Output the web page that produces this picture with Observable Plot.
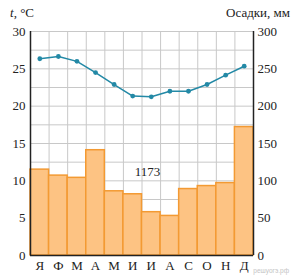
<!DOCTYPE html>
<html><head><meta charset="utf-8">
<script src="https://cdn.jsdelivr.net/npm/d3@7"></script>
<script src="https://cdn.jsdelivr.net/npm/@observablehq/plot@0.6"></script>
<style>body{margin:0;background:#fff} svg{display:block} svg, svg text{font-family:"Liberation Serif","DejaVu Serif",serif !important;}
svg text.wm{font-family:"Liberation Sans",sans-serif !important;}</style>
</head><body><div id="chart"></div>
<script>
const months = ["Я","Ф","М","А","М","И","И","А","С","О","Н","Д"];
const temperature = [26.35, 26.65, 26.0, 24.5, 22.9, 21.35, 21.25, 22.0, 22.0, 22.9, 24.15, 25.35];
const precipitation = [115, 107, 104, 141, 86, 82, 58, 53, 89, 93, 97, 172];
const totalPrecipitation = 1173;
const tempTicks = [0, 5, 10, 15, 20, 25, 30];
const precipTicks = [0, 50, 100, 150, 200, 250, 300];

const data = months.map((m, i) => ({i, m, t: temperature[i], p: precipitation[i]}));
const teal = "#2389a6";

const plot = Plot.plot({
  width: 291, height: 277,
  marginLeft: 30, marginRight: 38, marginTop: 31, marginBottom: 22,
  style: {fontSize: "13px", color: "#222", background: "#fff"},
  x: {domain: [0, 12]},
  y: {domain: [0, 30]},
  marks: [
    Plot.gridX(d3.range(13), {stroke: "#c8c8c8", strokeOpacity: 1}),
    Plot.gridY(d3.range(0, 30.1, 2.5), {stroke: "#c8c8c8", strokeOpacity: 1}),
    Plot.rectY(data, {x1: "i", x2: d => d.i + 1, y: d => d.p / 10, fill: "#fdc383", stroke: "#f39a33", strokeWidth: 1.5}),
    Plot.lineY(data, {x: d => d.i + 0.5, y: "t", stroke: teal, strokeWidth: 1.5}),
    Plot.dot(data, {x: d => d.i + 0.5, y: "t", fill: teal, r: 2.4}),
    Plot.axisY(tempTicks, {anchor: "left", tickSize: 0, tickPadding: 5, label: null}),
    Plot.axisY(tempTicks, {anchor: "right", tickSize: 0, tickPadding: 4, label: null,
      tickFormat: d => precipTicks[tempTicks.indexOf(d)]}),
    Plot.axisX(d3.range(12).map(i => i + 0.5), {tickSize: 0, tickPadding: 5, label: null,
      tickFormat: d => months[Math.floor(d)]}),
    Plot.ruleX([0, 12], {stroke: "#222", strokeWidth: 1.5}),
    Plot.ruleY([0], {stroke: "#222", strokeWidth: 1.5}),
    Plot.text([totalPrecipitation], {x: 6.3, y: 11.2, text: d => String(d), fontSize: 13})
  ]
});
document.getElementById("chart").appendChild(plot);

const svg = d3.select(plot);
const lt = svg.append("text").attr("x", 10).attr("y", 17).attr("text-anchor", "start")
  .attr("font-size", 13).attr("fill", "#222");
lt.append("tspan").attr("font-style", "italic").text("t");
lt.append("tspan").text(", °C");
svg.append("text").attr("x", 290).attr("y", 17).attr("text-anchor", "end")
  .attr("font-size", 13).attr("fill", "#222")
  .text("Осадки, мм");
svg.append("text").attr("class", "wm").attr("x", 289).attr("y", 273).attr("text-anchor", "end")
  .attr("font-size", 6.5).attr("fill", "#c4c4c4")
  .text("решуогэ.рф");
</script>
</body></html>
